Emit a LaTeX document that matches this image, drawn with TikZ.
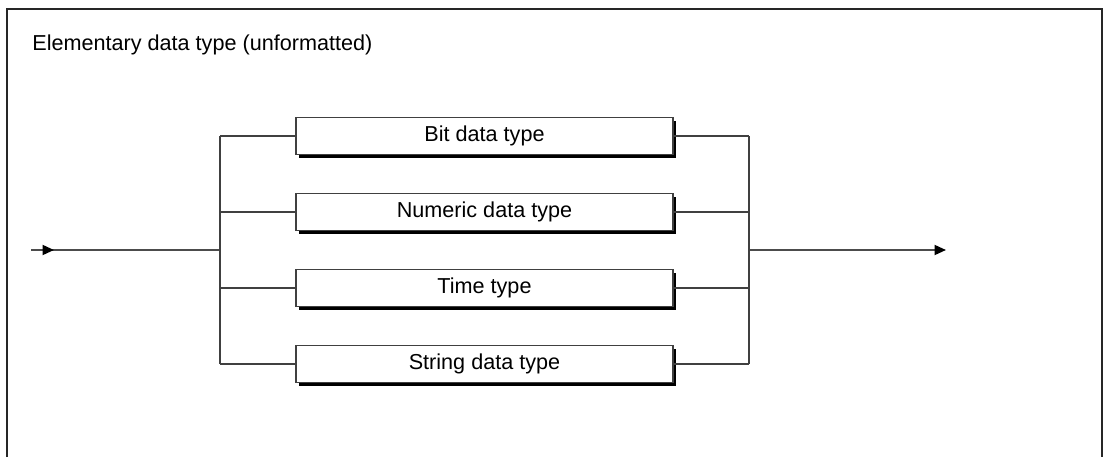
\documentclass[tikz,border=0pt]{standalone}
\usepackage{fontspec}
\setmainfont{Liberation Sans}
\usetikzlibrary{positioning}
\usetikzlibrary{shadows}
\usetikzlibrary{arrows.meta}
\usepackage{xcolor}

\begin{document}
\begin{tikzpicture}[
		font=\fontsize{12.3}{14}\selectfont,
		t/.style = {rectangle, draw=black!75, fill=white, line width=0.6pt, minimum width=7.54cm, minimum height=0.74cm, inner sep=0pt,
			drop shadow={shadow xshift=0.065cm, shadow yshift=-0.065cm, fill=black, opacity=1}},
		l/.style = {draw=black!75, line width=0.6pt},
		f/.style = {draw=black!70, line width=1.1pt},
		r/.style = {f, -{Triangle[length=0.23cm, width=0.2cm, color=black]}}
		]
		\useasboundingbox (0,0) rectangle (22.08,9.14);
		
		%Frame
		\draw[line width=1.1pt, black!85] (0.14,0) -- (0.14,8.96) -- (22.04,8.96) -- (22.04,0);
		\node[anchor=base west, inner sep=0pt]	(title)	at	(0.64,8.14)	{Elementary data type (unformatted)};
		
		%Nodes
		\node[t]	(bit)	at	(9.69,6.42)	{Bit data type};
		\node[t]	(num)	at	(9.69,4.90)	{Numeric data type};
		\node[t]	(tim)	at	(9.69,3.38)	{Time type};
		\node[t]	(str)	at	(9.69,1.86)	{String data type};
		
		\coordinate	(in)	at	(0.62,4.14);
		\coordinate	(inmark)	at	(1.08,4.14);
		\coordinate	(lbus)	at	(4.40,4.14);
		\coordinate	(rbus)	at	(14.98,4.14);
		\coordinate	(out)	at	(18.92,4.14);
		
		%Lines
		\draw[f]	(in)	--	(lbus);
		\draw[r]	(in)	--	(inmark);
		\draw[r]	(rbus)	--	(out);
		\draw[l]	(lbus |- bit.west)	--	(lbus |- str.west);
		\draw[l]	(rbus |- bit.east)	--	(rbus |- str.east);
		\draw[l]	(lbus |- bit.west)	--	(bit.west);
		\draw[l]	(lbus |- num.west)	--	(num.west);
		\draw[l]	(lbus |- tim.west)	--	(tim.west);
		\draw[l]	(lbus |- str.west)	--	(str.west);
		\draw[l]	(bit.east)	--	(rbus |- bit.east);
		\draw[l]	(num.east)	--	(rbus |- num.east);
		\draw[l]	(tim.east)	--	(rbus |- tim.east);
		\draw[l]	(str.east)	--	(rbus |- str.east);
	\end{tikzpicture}
\end{document}
